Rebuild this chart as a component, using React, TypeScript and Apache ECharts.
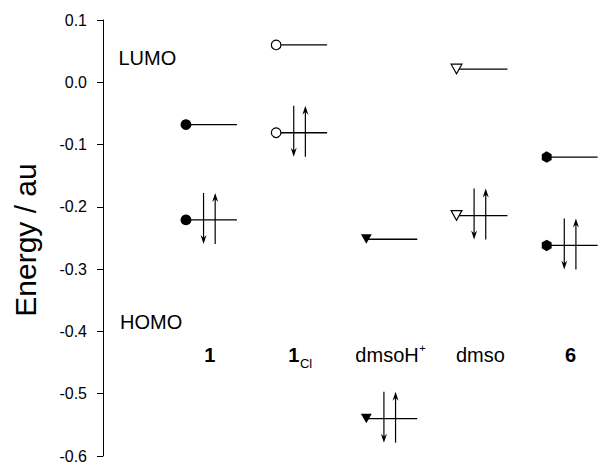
import { useEffect, useRef } from 'react';
import * as echarts from 'echarts';

// ---- data ----
const compounds = ['1', '1Cl', 'dmsoH+', 'dmso', '6'];
const lumo = [-0.068, 0.06, -0.252, 0.021, -0.12];
const homo = [-0.221, -0.081, -0.54, -0.214, -0.262];
const markerKinds = ['circleFilled', 'circleOpen', 'triFilled', 'triOpen', 'hexFilled'];
const labelMain = ['1', '1', 'dmsoH', 'dmso', '6'];
const labelSub = ['', 'Cl', '', '', ''];
const labelSup = ['', '', '+', '', ''];
const labelBold = [true, true, false, false, true];
const yTicks = { min: -0.6, max: 0.1, interval: 0.1 };

// ---- layout (x in axis units, one unit per compound) ----
const FONT = "'Liberation Sans', Arial, Helvetica, sans-serif";
const LEVEL_X0 = 0.92;
const LEVEL_LEN = 0.565;
const DOWN_OFF = 0.195;
const UP_OFF = 0.324;
const LABEL_CENTER_OFF = 0.265;
const LABEL_Y = -0.4386;
const ARROW_TOP = 27;
const ARROW_BOTTOM = 24;

let measureCtx: CanvasRenderingContext2D | null = null;
function textWidth(text: string, font: string) {
  if (!text) return 0;
  if (!measureCtx) measureCtx = document.createElement('canvas').getContext('2d');
  measureCtx!.font = font;
  return measureCtx!.measureText(text).width;
}

function markerShape(kind: string, cx: number, cy: number) {
  const black = '#000';
  if (kind === 'circleFilled') {
    return { type: 'circle', shape: { cx, cy, r: 5.4 }, style: { fill: black } };
  }
  if (kind === 'circleOpen') {
    return { type: 'circle', shape: { cx, cy, r: 4.8 }, style: { fill: '#fff', stroke: black, lineWidth: 1.2 } };
  }
  if (kind === 'triFilled' || kind === 'triOpen') {
    const pts = [[cx - 5.4, cy - 5], [cx + 5.4, cy - 5], [cx, cy + 4.6]];
    return kind === 'triFilled'
      ? { type: 'polygon', shape: { points: pts }, style: { fill: black } }
      : { type: 'polygon', shape: { points: pts }, style: { fill: '#fff', stroke: black, lineWidth: 1.2 } };
  }
  const pts: number[][] = [];
  for (let k = 0; k < 6; k++) {
    const a = Math.PI / 2 + (k * Math.PI) / 3;
    pts.push([cx + 5.7 * Math.cos(a), cy - 5.7 * Math.sin(a)]);
  }
  return { type: 'polygon', shape: { points: pts }, style: { fill: black } };
}

function arrow(x: number, yTail: number, yTip: number) {
  const dir = yTip > yTail ? 1 : -1;
  return [
    {
      type: 'line',
      shape: { x1: x, y1: yTail, x2: x, y2: yTip - dir * 4 },
      style: { stroke: '#000', lineWidth: 1.2 },
    },
    {
      type: 'polygon',
      shape: {
        points: [
          [x, yTip],
          [x - 3, yTip - dir * 9],
          [x, yTip - dir * 6],
          [x + 3, yTip - dir * 9],
        ],
      },
      style: { fill: '#000' },
    },
  ];
}

export default function App() {
  const ref = useRef<HTMLDivElement>(null);
  useEffect(() => {
    document.body.style.margin = '0';
    const chart = echarts.init(ref.current!, null, { renderer: 'svg' });

    const levelData: number[][] = [];
    compounds.forEach((_, i) => {
      levelData.push([i, lumo[i], 0]);
      levelData.push([i, homo[i], 1]);
    });

    const option: any = {
      animation: false,
      grid: { left: 103, right: 1, top: 20, bottom: 6 },
      xAxis: { type: 'value', min: 0, max: 5.5, show: false },
      yAxis: {
        type: 'value',
        min: yTicks.min,
        max: yTicks.max,
        interval: yTicks.interval,
        axisLine: { show: true, lineStyle: { color: '#000', width: 1 } },
        axisTick: { show: true, length: 6, lineStyle: { color: '#000', width: 1 } },
        splitLine: { show: false },
        axisLabel: {
          color: '#000',
          fontSize: 16,
          fontFamily: FONT,
          margin: 16,
          formatter: (v: number) => (Math.abs(v) < 1e-9 ? '0.0' : v.toFixed(1)),
        },
      },
      graphic: [
        {
          type: 'text',
          x: 25,
          y: 240,
          rotation: Math.PI / 2,
          style: { text: 'Energy / au', fontSize: 30, fontFamily: FONT, fill: '#000', align: 'center', verticalAlign: 'middle' },
        },
        {
          type: 'text',
          x: 118.5,
          y: 58.4,
          style: { text: 'LUMO', fontSize: 20, fontFamily: FONT, fill: '#000', align: 'left', verticalAlign: 'middle' },
        },
        {
          type: 'text',
          x: 120,
          y: 321.7,
          style: { text: 'HOMO', fontSize: 20, fontFamily: FONT, fill: '#000', align: 'left', verticalAlign: 'middle' },
        },
      ],
      series: [
        {
          type: 'custom',
          name: 'levels',
          clip: false,
          data: levelData,
          renderItem: (params: any, api: any) => {
            const i = api.value(0);
            const e = api.value(1);
            const occ = api.value(2);
            const p0 = api.coord([i + LEVEL_X0, e]);
            const p1 = api.coord([i + LEVEL_X0 + LEVEL_LEN, e]);
            const children: any[] = [
              {
                type: 'line',
                shape: { x1: p0[0], y1: p0[1], x2: p1[0], y2: p1[1] },
                style: { stroke: '#000', lineWidth: 1.3 },
              },
            ];
            if (occ) {
              const pd = api.coord([i + LEVEL_X0 + DOWN_OFF, e]);
              const pu = api.coord([i + LEVEL_X0 + UP_OFF, e]);
              const y = p0[1];
              children.push(...arrow(pd[0], y - ARROW_TOP, y + ARROW_BOTTOM));
              children.push(...arrow(pu[0], y + ARROW_BOTTOM, y - ARROW_TOP));
            }
            children.push(markerShape(markerKinds[i], p0[0], p0[1]));
            return { type: 'group', children };
          },
        },
        {
          type: 'custom',
          name: 'labels',
          clip: false,
          data: compounds.map((_, i) => [i]),
          renderItem: (params: any, api: any) => {
            const i = api.value(0);
            const c = api.coord([i + LEVEL_X0 + LABEL_CENTER_OFF, LABEL_Y]);
            const mainFont = `${labelBold[i] ? 'bold ' : ''}20px ${FONT}`;
            const subFont = `13px ${FONT}`;
            const supFont = `11px ${FONT}`;
            const wM = textWidth(labelMain[i], mainFont);
            const wS = textWidth(labelSub[i], subFont);
            const wP = textWidth(labelSup[i], supFont);
            const total = wM + Math.max(wS, wP);
            const left = c[0] - total / 2;
            const children: any[] = [
              {
                type: 'text',
                x: left,
                y: c[1],
                style: {
                  text: labelMain[i],
                  fontSize: 20,
                  fontWeight: labelBold[i] ? 'bold' : 'normal',
                  fontFamily: FONT,
                  fill: '#000',
                  align: 'left',
                  verticalAlign: 'middle',
                },
              },
            ];
            if (labelSub[i]) {
              children.push({
                type: 'text',
                x: left + wM + 0.5,
                y: c[1] + 8.5,
                style: { text: labelSub[i], fontSize: 13, fontFamily: FONT, fill: '#000', align: 'left', verticalAlign: 'middle' },
              });
            }
            if (labelSup[i]) {
              children.push({
                type: 'text',
                x: left + wM + 0.5,
                y: c[1] - 7,
                style: { text: labelSup[i], fontSize: 11, fontFamily: FONT, fill: '#000', align: 'left', verticalAlign: 'middle' },
              });
            }
            return { type: 'group', children };
          },
        },
      ],
    };

    chart.setOption(option);
    return () => chart.dispose();
  }, []);
  return <div ref={ref} style={{ width: 600, height: 464 }} />;
}
